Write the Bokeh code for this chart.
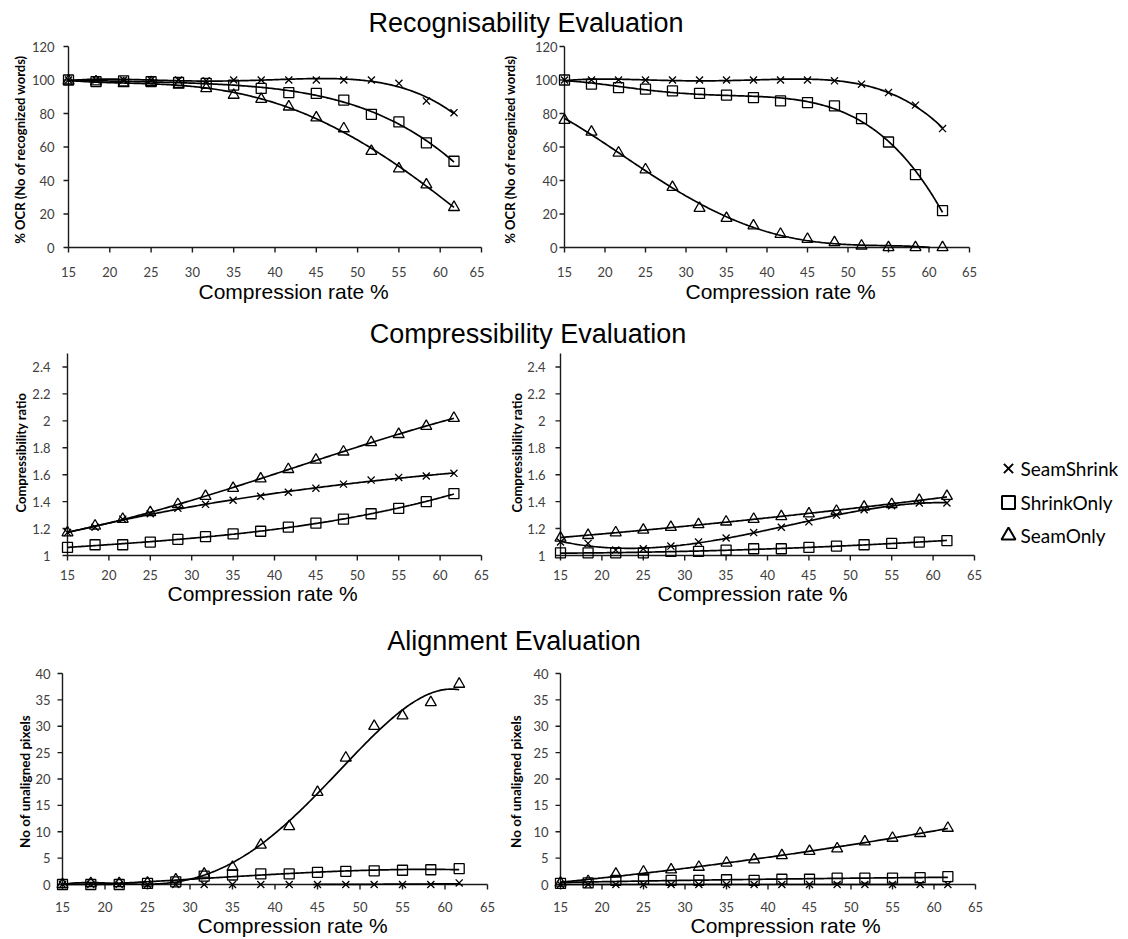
import numpy as np
from bokeh.plotting import figure
from bokeh.layouts import column, row
from bokeh.models import Div, Range1d, FixedTicker, CustomJSTickFormatter, Title
from bokeh.core.properties import value
from bokeh.embed import file_html
from bokeh.resources import INLINE

# ---------------- data ----------------
compression = [15, 18.33, 21.67, 25, 28.33, 31.67, 35, 38.33, 41.67, 45, 48.33, 51.67, 55, 58.33, 61.67]
x_ticks = [15, 20, 25, 30, 35, 40, 45, 50, 55, 60, 65]
series_names = ["SeamShrink", "ShrinkOnly", "SeamOnly"]
row_titles = ["Recognisability Evaluation", "Compressibility Evaluation", "Alignment Evaluation"]
x_title = "Compression rate %"
y_titles = ["% OCR (No of recognized words)", "Compressibility ratio", "No of unaligned pixels"]

ocr_ticks = [0, 20, 40, 60, 80, 100, 120]
ratio_ticks = [1, 1.2, 1.4, 1.6, 1.8, 2, 2.2, 2.4]
pixel_ticks = [0, 5, 10, 15, 20, 25, 30, 35, 40]

rec_left_seamshrink = [100, 100, 100, 100, 100, 99.5, 100, 100, 100, 100, 100, 100, 98, 87.5, 80.5]
rec_left_shrinkonly = [100, 99, 99.5, 99, 98.5, 98, 97, 95, 92.5, 92, 88, 79.5, 75, 62.5, 51.5]
rec_left_seamonly = [99.5, 99, 98, 98.5, 97, 95, 91, 88.5, 84, 77.5, 71, 57.5, 47, 37.5, 24]

rec_right_seamshrink = [100, 100, 100, 100, 100, 100, 100, 100, 100, 100, 99.5, 97.5, 92.5, 85, 71]
rec_right_shrinkonly = [100, 97.5, 95.5, 94.5, 93.5, 92, 91, 89.5, 87.5, 86.5, 84.5, 77, 63, 43.5, 22]
rec_right_seamonly = [76, 69, 56.5, 46.5, 36, 23.5, 17.5, 13, 8, 5, 3, 1, 0, 0, 0]

comp_left_seamshrink = [1.17, 1.21, 1.27, 1.31, 1.35, 1.38, 1.41, 1.44, 1.47, 1.50, 1.53, 1.56, 1.58, 1.59, 1.61]
comp_left_shrinkonly = [1.06, 1.08, 1.08, 1.10, 1.12, 1.14, 1.16, 1.18, 1.21, 1.24, 1.27, 1.31, 1.35, 1.40, 1.46]
comp_left_seamonly = [1.17, 1.22, 1.27, 1.32, 1.38, 1.44, 1.50, 1.57, 1.64, 1.71, 1.77, 1.84, 1.90, 1.96, 2.02]

comp_right_seamshrink = [1.10, 1.09, 1.04, 1.05, 1.07, 1.10, 1.13, 1.17, 1.21, 1.25, 1.30, 1.34, 1.37, 1.39, 1.39]
comp_right_shrinkonly = [1.02, 1.02, 1.02, 1.02, 1.03, 1.03, 1.04, 1.05, 1.05, 1.06, 1.07, 1.08, 1.09, 1.10, 1.11]
comp_right_seamonly = [1.13, 1.15, 1.17, 1.19, 1.21, 1.23, 1.25, 1.27, 1.29, 1.31, 1.33, 1.36, 1.38, 1.41, 1.44]

align_left_seamshrink = [0, 0, 0, 0, 0, 0, 0, 0, 0, 0, 0, 0, 0, 0, 0.3]
align_left_shrinkonly = [0, 0, 0, 0.2, 0.5, 1.6, 1.8, 2.0, 2.0, 2.3, 2.5, 2.6, 2.7, 2.8, 3.0]
align_left_seamonly = [0, 0.2, 0.2, 0.3, 0.9, 2.0, 3.3, 7.5, 11, 17.5, 24, 30, 32, 34.5, 38]

align_right_seamshrink = [0, 0, 0, 0, 0, 0, 0, 0, 0, 0, 0, 0, 0, 0, 0]
align_right_shrinkonly = [0.2, 0.3, 0.8, 1.0, 0.8, 0.8, 0.9, 0.8, 1.0, 1.0, 1.2, 1.2, 1.2, 1.3, 1.5]
align_right_seamonly = [0.3, 0.6, 2.0, 2.4, 2.8, 3.3, 4.1, 4.7, 5.5, 6.3, 6.8, 8.1, 8.8, 9.7, 10.7]

# ---------------- styling ----------------
MARKERS = {"SeamShrink": ("x", 10), "ShrinkOnly": ("square", 10), "SeamOnly": ("triangle", 11)}
TICK_FONT = "Lato"
TICK_COLOR = "#404040"
AXIS_COLOR = "#1a1a1a"
PAD_L, PAD_B, PAD_R, PAD_T = 7, 8, 3, 3


def make_panel(fig_xy, fig_wh, box, yr, yticks, series, ytitle, ytitle_size,
               ystand, xstand, ytitle_gap, xtitle_gap, xtitle_left, ytitle_bottom=None,
               ratio_fmt=False):
    fx, fy = fig_xy
    fw, fh = fig_wh
    L, R, T, B = box
    ymin, ymax = yr
    x0, x1 = x_ticks[0], x_ticks[-1]
    sx = (R - L) / (x1 - x0)
    sy = (B - T) / (ymax - ymin)
    fl, fr, ft, fb = L - PAD_L, R + PAD_R, T - PAD_T, B + PAD_B
    p = figure(width=fw, height=fh,
               x_range=Range1d(x0 - PAD_L / sx, x1 + PAD_R / sx),
               y_range=Range1d(ymin - PAD_B / sy, ymax + PAD_T / sy),
               min_border_left=fl - fx, min_border_right=max(fx + fw - fr, 0),
               min_border_top=ft - fy, min_border_bottom=fy + fh - fb,
               output_backend="svg", toolbar_location=None)
    p.outline_line_color = None
    p.grid.visible = False
    p.xaxis.ticker = FixedTicker(ticks=x_ticks)
    p.yaxis.ticker = FixedTicker(ticks=yticks)
    if ratio_fmt:
        p.yaxis.formatter = CustomJSTickFormatter(code="return String(Math.round(tick*10)/10);")
    for ax in p.axis:
        ax.axis_line_color = None
        ax.major_tick_line_color = None
        ax.minor_tick_line_color = None
        ax.major_tick_in = 0
        ax.major_tick_out = 0
        ax.minor_tick_in = 0
        ax.minor_tick_out = 0
        ax.major_label_text_font = TICK_FONT
        ax.major_label_text_font_size = "13px"
        ax.major_label_text_color = TICK_COLOR
    p.yaxis.major_label_standoff = ystand
    p.xaxis.major_label_standoff = xstand

    # axis lines and tick marks at the Excel-like positions (x = 15, y = ymin)
    tick_len = 5
    p.segment(x0=[x0, x0], y0=[ymin, ymin], x1=[x1, x0], y1=[ymin, ymax],
              line_color=AXIS_COLOR, line_width=1.4)
    p.segment(x0=x_ticks, y0=[ymin] * len(x_ticks), x1=x_ticks,
              y1=[ymin - tick_len / sy] * len(x_ticks), line_color=AXIS_COLOR, line_width=1.4)
    p.segment(x0=[x0] * len(yticks), y0=yticks, x1=[x0 - tick_len / sx] * len(yticks),
              y1=yticks, line_color=AXIS_COLOR, line_width=1.4)

    xs = np.array(compression, dtype=float)
    xf = np.linspace(xs.min(), xs.max(), 240)
    for name, ys, deg in series:
        coef = np.polyfit(xs, np.array(ys, dtype=float), deg)
        yf = np.polyval(coef, xf)
        yf = np.where((yf < ymin) | (yf > ymax), np.nan, yf)
        p.line(xf, yf, line_color="black", line_width=1.7)
    for name, ys, deg in series:
        marker, size = MARKERS[name]
        p.scatter(xs, ys, marker=marker, size=size, line_color="black",
                  fill_color=None, line_width=1.3)

    p.add_layout(Title(text=x_title, align="left", offset=xtitle_left - fl, standoff=xtitle_gap,
                       text_font="Liberation Sans", text_font_size="21px",
                       text_font_style="normal", text_color="black"), "below")
    if ytitle_bottom is None:
        ytl = Title(text=ytitle, align="center", standoff=ytitle_gap)
    else:
        ytl = Title(text=ytitle, align="left", offset=fb - ytitle_bottom, standoff=ytitle_gap)
    ytl.text_font = "Lato"
    ytl.text_font_size = ytitle_size
    ytl.text_font_style = "bold"
    ytl.text_color = "black"
    p.add_layout(ytl, "left")
    return p


def title_div(text, center_x, size, h=30, top_pad=0):
    w = int(round(2 * center_x))
    html = (f'<div style="width:{w}px;height:{h - top_pad}px;padding-top:{top_pad}px;'
            f"text-align:center;font-family:'Liberation Sans',Arial,sans-serif;"
            f'font-size:{size}px;line-height:30px;color:#000;white-space:nowrap;margin:0">{text}</div>')
    return Div(text=html, width=1112, height=h, margin=(0, 0, 0, 0))


ROW1_TB, ROW2_TB, ROW3_TB = (46, 247), (353, 555), (673, 884)

p1 = make_panel((0, 38), (484, 281), (68, 481) + ROW1_TB, (0, 120), ocr_ticks,
                [("SeamShrink", rec_left_seamshrink, 4), ("ShrinkOnly", rec_left_shrinkonly, 4),
                 ("SeamOnly", rec_left_seamonly, 4)],
                y_titles[0], "13px", 7, 11, 1, -3, 198)
p2 = make_panel((484, 38), (508, 281), (564, 969) + ROW1_TB, (0, 120), ocr_ticks,
                [("SeamShrink", rec_right_seamshrink, 4), ("ShrinkOnly", rec_right_shrinkonly, 5),
                 ("SeamOnly", rec_right_seamonly, 4)],
                y_titles[0], "13px", 0, 11, 27, -3, 685)
p3 = make_panel((0, 349), (496, 277), (67, 481) + ROW2_TB, (1, 2.5), ratio_ticks,
                [("SeamShrink", comp_left_seamshrink, 3), ("ShrinkOnly", comp_left_shrinkonly, 3),
                 ("SeamOnly", comp_left_seamonly, 3)],
                y_titles[1], "13px", 10, 6, 0.5, -6, 167, ytitle_bottom=512, ratio_fmt=True)
p4 = make_panel((496, 349), (496, 277), (560, 974) + ROW2_TB, (1, 2.5), ratio_ticks,
                [("SeamShrink", comp_right_seamshrink, 4), ("ShrinkOnly", comp_right_shrinkonly, 2),
                 ("SeamOnly", comp_right_seamonly, 2)],
                y_titles[1], "13px", 8, 6, 0, -6, 657, ytitle_bottom=512, ratio_fmt=True)
p5 = make_panel((0, 656), (496, 282), (62, 487) + ROW3_TB, (0, 40), pixel_ticks,
                [("SeamShrink", align_left_seamshrink, 2), ("ShrinkOnly", align_left_shrinkonly, 3),
                 ("SeamOnly", align_left_seamonly, 4)],
                y_titles[2], "13.5px", 5, 9, 0, -6, 197)
p6 = make_panel((496, 656), (496, 282), (560, 975) + ROW3_TB, (0, 40), pixel_ticks,
                [("SeamShrink", align_right_seamshrink, 1), ("ShrinkOnly", align_right_shrinkonly, 2),
                 ("SeamOnly", align_right_seamonly, 2)],
                y_titles[2], "13.5px", 5, 9, 13, -6, 690)

# legend panel (no axes); its frame is aligned with the row's plot frames,
# so its y range is expressed in row-local pixels of that frame
row2_top = 349
leg = figure(width=130, height=277, x_range=Range1d(0, 130),
             y_range=Range1d(ROW2_TB[1] + PAD_B - row2_top, ROW2_TB[0] - PAD_T - row2_top),
             x_axis_location=None, y_axis_location=None,
             min_border_left=0, min_border_right=0, min_border_top=0, min_border_bottom=0,
             output_backend="svg", toolbar_location=None)
leg.grid.visible = False
leg.outline_line_color = None
leg_y = [119, 153, 186]
for name, yy in zip(series_names, leg_y):
    marker, size = MARKERS[name]
    leg.scatter([16], [yy], marker=marker, size=size + 3, line_color="black",
                fill_color=None, line_width=2)
leg.text(x=[28, 28, 28], y=leg_y, text=series_names, text_font=value("Lato"),
         text_font_size="19px", text_baseline="middle", text_align="left", text_color="black")

layout = column(
    title_div(row_titles[0], 526, 27, h=38, top_pad=8),
    row(p1, p2),
    title_div(row_titles[1], 528, 27),
    row(p3, p4, leg),
    title_div(row_titles[2], 514, 27),
    row(p5, p6),
)

open("out.html", "w").write(file_html(layout, INLINE))
